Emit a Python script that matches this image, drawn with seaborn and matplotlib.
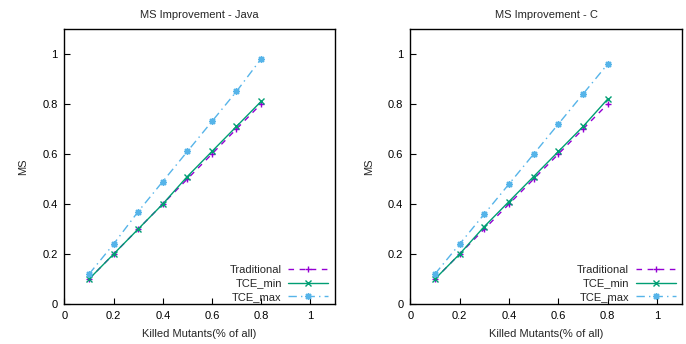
import matplotlib
matplotlib.use("Agg")
import matplotlib.pyplot as plt
import seaborn as sns
import pandas as pd

sns.set_style("white")
plt.rcParams['font.family'] = ['Liberation Sans', 'DejaVu Sans']

killed = [0.1, 0.2, 0.3, 0.4, 0.5, 0.6, 0.7, 0.8]

java_traditional = [0.1, 0.2, 0.3, 0.4, 0.5, 0.6, 0.7, 0.8]
java_tce_min = [0.1, 0.2, 0.3, 0.4, 0.51, 0.61, 0.71, 0.81]
java_tce_max = [0.12, 0.24, 0.37, 0.49, 0.61, 0.73, 0.85, 0.98]

c_traditional = [0.1, 0.2, 0.3, 0.4, 0.5, 0.6, 0.7, 0.8]
c_tce_min = [0.1, 0.2, 0.31, 0.41, 0.51, 0.61, 0.71, 0.82]
c_tce_max = [0.12, 0.24, 0.36, 0.48, 0.6, 0.72, 0.84, 0.96]

titles = ["MS Improvement - Java", "MS Improvement - C"]
series_names = ["Traditional", "TCE_min", "TCE_max"]
tick_vals = [0, 0.2, 0.4, 0.6, 0.8, 1]
tick_labels = ["0", "0.2", "0.4", "0.6", "0.8", "1"]

styles = {
    "Traditional": dict(color="#9400D3", markeredgecolor="#9400D3", linestyle=(0, (4, 4)),
                        marker="+", markersize=5, markeredgewidth=1.0),
    "TCE_min": dict(color="#009E73", markeredgecolor="#009E73", linestyle="-",
                    marker="x", markersize=3.8, markeredgewidth=1.0),
    "TCE_max": dict(color="#56B4E9", markeredgecolor="#56B4E9", linestyle=(0, (6, 3, 1, 3)),
                    marker=(8, 2, 0), markersize=5, markeredgewidth=1.0),
}

fig = plt.figure(figsize=(6.86, 3.44), dpi=100)
ax1 = fig.add_axes([0.094, 0.116, 0.394, 0.800])
ax2 = fig.add_axes([0.598, 0.116, 0.396, 0.800])

panels = [
    (ax1, [java_traditional, java_tce_min, java_tce_max]),
    (ax2, [c_traditional, c_tce_min, c_tce_max]),
]

for (ax, data), title in zip(panels, titles):
    for name, vals in zip(series_names, data):
        df = pd.DataFrame({"x": killed, "y": vals})
        sns.lineplot(data=df, x="x", y="y", ax=ax, label=name, linewidth=1.0, **styles[name])
    ax.set_xlim(0, 1.1)
    ax.set_ylim(0, 1.1)
    ax.set_xticks(tick_vals)
    ax.set_xticklabels(tick_labels)
    ax.set_yticks(tick_vals)
    ax.set_yticklabels(tick_labels)
    ax.tick_params(direction="in", length=4, width=0.8, labelsize=8, color="black", labelcolor="black", pad=5)
    ax.tick_params(top=False, right=False, bottom=True, left=True)
    for sp in ax.spines.values():
        sp.set_visible(True)
        sp.set_color("black")
        sp.set_linewidth(1.0)
    ax.set_title(title, fontsize=8, pad=8)
    ax.set_xlabel("Killed Mutants(% of all)", fontsize=8, labelpad=6)
    ax.set_ylabel("MS", fontsize=8, labelpad=10)
    ax.legend(loc="lower right", bbox_to_anchor=(0.985, 0.0), frameon=False, markerfirst=False,
              fontsize=8, handlelength=3.6, handletextpad=0.6, labelspacing=0.3,
              borderaxespad=0.0, borderpad=0.2)

fig.savefig("out.png", dpi=100)
